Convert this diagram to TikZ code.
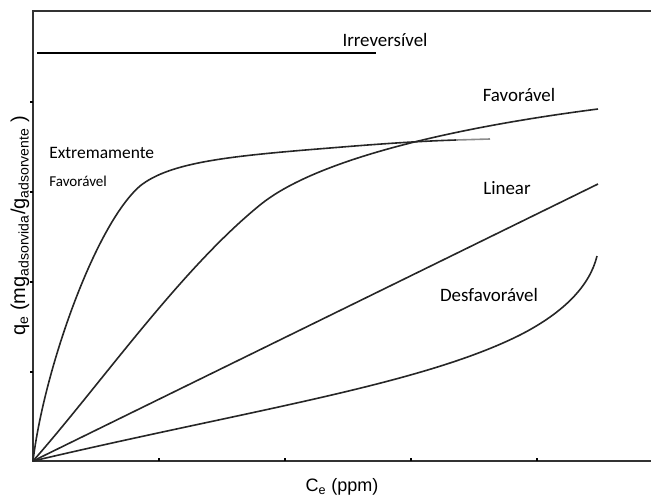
\documentclass[tikz,border=0pt]{standalone}
\usepackage{fontspec}
\usepackage{tikz}
\usetikzlibrary{positioning}
\newfontfamily\lblfont{Carlito}
\newfontfamily\axfont{Liberation Sans}

\begin{document}
\begin{tikzpicture}[x=0.75pt, y=-0.75pt, font=\lblfont,
    curve/.style={line width=1.2pt, black!85},
    tag/.style={inner sep=0pt, font=\lblfont\fontsize{14.2}{16}\selectfont},
    axtag/.style={inner sep=0pt, font=\axfont\fontsize{13.5}{15}\selectfont}]
\useasboundingbox (0,0) rectangle (651,501);
\coordinate (O) at (33,461);
% Axes
\draw[line width=1.5pt, black!80] (651,11) -- (33,11) -- (O) -- (651,461);
% Ticks
\foreach \y in {102,192,282,372} {
    \draw[line width=0.8pt] (30,\y) -- (33,\y);
}
\foreach \x in {159,285,411,537} {
    \draw[line width=0.8pt] (\x,461) -- (\x,458);
}
% Irreversible
\draw[line width=1.7pt] (37,53) -- (376,53);
\node[tag] (irrev) at (385,40) {Irreversível};
% Extremely favourable
\draw[curve] (O) .. controls (44,370) and (95,225) .. (140,186)
    .. controls (170,162) and (230,156) .. (330,148)
    .. controls (390,143) and (425,141) .. (456,140);
\draw[line width=1.2pt, black!45] (456,140) -- (490,139);
\node[tag, anchor=west, font=\lblfont\fontsize{13.1}{15}\selectfont] (extrem) at (49,153) {Extremamente};
\node[tag, anchor=west, font=\lblfont\fontsize{11.3}{13}\selectfont] (extremfav) at (49,181) {Favorável};
% Favourable
\draw[curve] (O) .. controls (100,385) and (180,270) .. (260,205)
    .. controls (315,160) and (450,128) .. (598,109);
\node[tag] (fav) at (519,95) {Favorável};
% Linear
\coordinate (linend) at (598,184);
\draw[curve] (O) -- (linend);
\node[tag] (lin) at (507,188) {Linear};
% Unfavourable
\draw[curve] (O) .. controls (250,410) and (420,385) .. (520,335)
    .. controls (565,312) and (590,285) .. (597,256);
\node[tag] (desfav) at (489,295) {Desfavorável};
% Axis labels
\node[axtag] (xlab) at (342,487) {C\textsubscript{e} (ppm)};
\node[axtag, rotate=90, font=\axfont\fontsize{15}{17}\selectfont] (ylab) at (20,226) {q\textsubscript{e} (mg\textsubscript{adsorvida}/g\textsubscript{adsorvente} )};
\end{tikzpicture}
\end{document}
